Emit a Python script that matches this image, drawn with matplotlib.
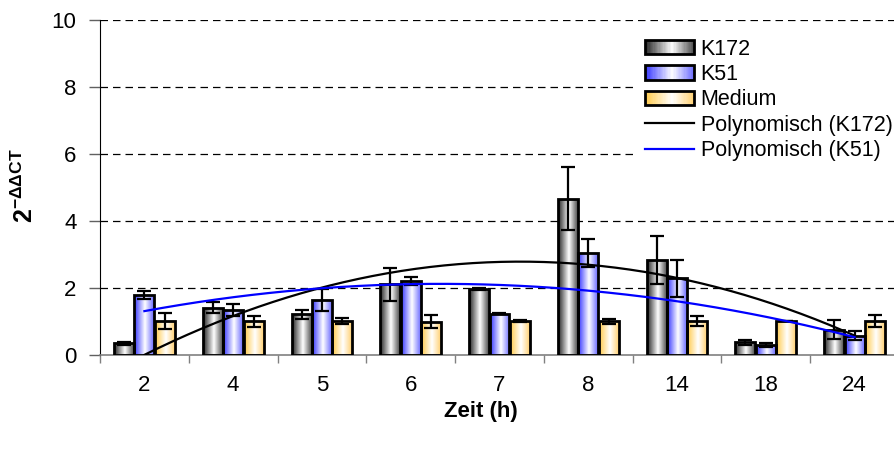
import numpy as np
import matplotlib
matplotlib.use("Agg")
import matplotlib.pyplot as plt
from matplotlib.colors import LinearSegmentedColormap
from matplotlib.patches import Rectangle
from matplotlib.lines import Line2D
from matplotlib.legend_handler import HandlerBase

plt.rcParams['font.family'] = ['Liberation Sans', 'DejaVu Sans']
plt.rcParams['mathtext.fontset'] = 'custom'
plt.rcParams['mathtext.rm'] = 'Liberation Sans'
plt.rcParams['mathtext.bf'] = 'Liberation Sans:bold'
plt.rcParams['mathtext.it'] = 'Liberation Sans:italic'

# ---- data ----
categories = ['2', '4', '5', '6', '7', '8', '14', '18', '24']
k172 = [0.35, 1.41, 1.21, 2.11, 1.97, 4.67, 2.83, 0.38, 0.75]
k172_err = [0.04, 0.17, 0.13, 0.50, 0.03, 0.95, 0.71, 0.07, 0.28]
k51 = [1.79, 1.34, 1.64, 2.22, 1.23, 3.04, 2.29, 0.30, 0.58]
k51_err = [0.13, 0.18, 0.34, 0.12, 0.02, 0.41, 0.55, 0.07, 0.13]
medium = [1.01, 1.01, 1.01, 1.00, 1.01, 1.01, 1.02, 1.01, 1.01]
medium_err = [0.23, 0.16, 0.08, 0.20, 0.02, 0.07, 0.14, 0.0, 0.18]
yticks = [0, 2, 4, 6, 8, 10]
series_names = ['K172', 'K51', 'Medium']
trend_names = ['Polynomisch (K172)', 'Polynomisch (K51)']

cm_gray = LinearSegmentedColormap.from_list('g', [(0, '#202020'), (0.55, '#ffffff'), (1, '#4a4a4a')])
cm_blue = LinearSegmentedColormap.from_list('b', [(0, '#3030ff'), (0.55, '#ffffff'), (1, '#6a6aff')])
cm_yel = LinearSegmentedColormap.from_list('y', [(0, '#ffc845'), (0.55, '#ffffff'), (1, '#ffd070')])

fig = plt.figure(figsize=(8.94, 4.5), dpi=100)
ax = fig.add_axes([100/894, 1-355/450, 799/894, 335/450])

x = np.arange(len(categories))
w = 0.225
off = 0.23
grad = np.linspace(0, 1, 256).reshape(1, -1)

def draw_bars(vals, errs, dx, cmap):
    bars = ax.bar(x + dx, vals, w, facecolor='none', edgecolor='black', linewidth=2.0, zorder=3)
    for r in bars:
        x0, bw, h = r.get_x(), r.get_width(), r.get_height()
        im = ax.imshow(grad, extent=[x0, x0 + bw, 0, h], aspect='auto', cmap=cmap,
                       origin='lower', zorder=2, interpolation='bilinear')
        im.set_clip_path(r)
    ax.errorbar(x + dx, vals, yerr=errs, fmt='none', ecolor='black', elinewidth=1.6,
                capsize=5, capthick=1.6, zorder=4)

draw_bars(k172, k172_err, -off, cm_gray)
draw_bars(k51, k51_err, 0, cm_blue)
draw_bars(medium, medium_err, off, cm_yel)

# polynomial (order 2) trend lines like Excel (x = 1..n)
xs = np.linspace(0, len(categories) - 1, 200)
for vals, col in [(k172, 'black'), (k51, '#0000ff')]:
    p = np.polyfit(x + 1, vals, 2)
    ax.plot(xs, np.polyval(p, xs + 1), color=col, lw=1.6, zorder=5)

ax.set_xlim(-0.5, len(categories) - 0.5)
ax.set_ylim(0, 10)
ax.set_yticks(yticks)
ax.set_yticklabels([str(t) for t in yticks], fontsize=16)
ax.set_xticks(x)
ax.set_xticklabels(categories, fontsize=16)
ax.set_xticks(np.arange(len(categories) + 1) - 0.5, minor=True)
ax.tick_params(axis='x', which='major', length=0, pad=14.5)
ax.tick_params(axis='x', which='minor', length=6, color='#808080', width=1)
ax.tick_params(axis='y', length=8, color='#606060', width=1, pad=9)
for s in ['top', 'right']:
    ax.spines[s].set_visible(False)
ax.spines['left'].set_color('black')
ax.spines['bottom'].set_color('#808080')
ax.spines['bottom'].set_linewidth(1.2)
for t in yticks[1:]:
    ax.axhline(t, color='black', lw=0.9, dashes=(6, 4), zorder=1)

fig.text(481/894, 1-411/450, 'Zeit (h)', ha='center', va='center', fontsize=16, fontweight='bold')
fig.text(25/894, 1-186/450, r'$\mathbf{2^{-\Delta\Delta CT}}$', ha='center', va='center',
         rotation=90, fontsize=18)

class GradHandler(HandlerBase):
    def __init__(self, cmap):
        super().__init__()
        self.cmap = cmap
    def create_artists(self, legend, orig_handle, xdescent, ydescent, width, height, fontsize, trans):
        arts = []
        n = 40
        for i in range(n):
            arts.append(Rectangle((-xdescent + i * width / n, -ydescent), width / n * 1.05, height,
                                  facecolor=self.cmap((i + 0.5) / n), edgecolor='none',
                                  antialiased=False, transform=trans))
        arts.append(Rectangle((-xdescent, -ydescent), width, height, fill=False,
                              edgecolor='black', lw=2.0, transform=trans))
        return arts

h1 = Rectangle((0, 0), 1, 1)
h2 = Rectangle((0, 0), 1, 1)
h3 = Rectangle((0, 0), 1, 1)
l1 = Line2D([], [], color='black', lw=1.6)
l2 = Line2D([], [], color='#0000ff', lw=1.6)
leg = fig.legend([h1, h2, h3, l1, l2], series_names + trend_names,
           handler_map={h1: GradHandler(cm_gray), h2: GradHandler(cm_blue), h3: GradHandler(cm_yel)},
           loc='upper left', bbox_to_anchor=(634/894, 1-28/450), frameon=True,
           facecolor='white', edgecolor='none', framealpha=1, fancybox=False,
           fontsize=15.5, borderpad=0.5, borderaxespad=0, handlelength=2.3, handleheight=0.65,
           handletextpad=0.3, labelspacing=0.2)
leg.set_zorder(10)

fig.savefig('out.png', dpi=100)
